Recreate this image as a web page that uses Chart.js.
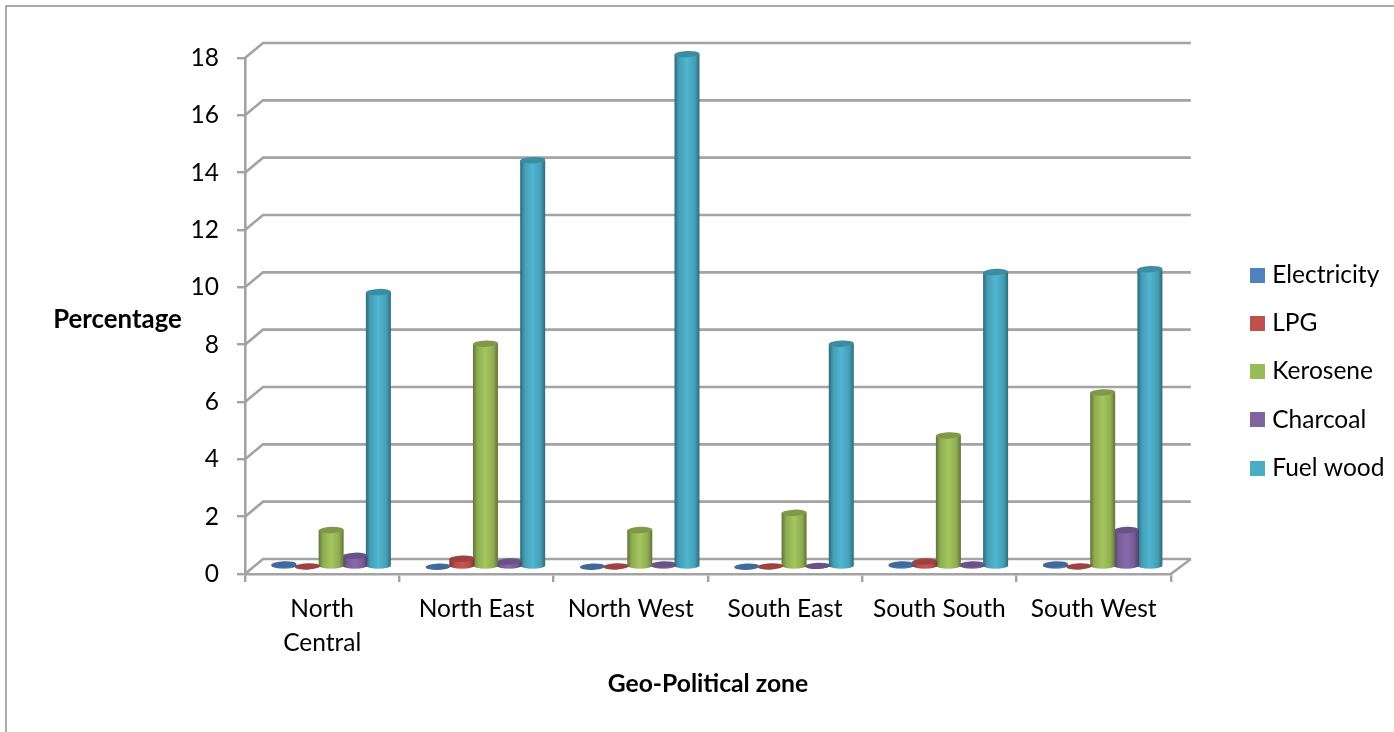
<!DOCTYPE html>
<html>
<head>
<meta charset="utf-8">
<style>html,body{margin:0;padding:0;background:#fff}canvas{display:block}</style>
<script src="https://cdn.jsdelivr.net/npm/chart.js@4/dist/chart.umd.min.js"></script>
</head>
<body>
<div style="width:1394px;height:732px"><canvas id="c" width="1394" height="732"></canvas></div>
<script>
const zones = [['North','Central'],'North East','North West','South East','South South','South West'];
const electricity = [0.1, 0.02, 0.02, 0.02, 0.1, 0.1];
const lpg = [0.03, 0.3, 0.03, 0.03, 0.2, 0.03];
const kerosene = [1.3, 7.8, 1.3, 1.9, 4.6, 6.1];
const charcoal = [0.4, 0.2, 0.1, 0.05, 0.1, 1.3];
const fuelWood = [9.6, 14.2, 17.9, 7.8, 10.3, 10.4];
const FONT = 'Lato, Carlito, sans-serif';
const AXIS = '#a3a3a3';
const DEPTH = {x: 18, y: -15};

function shade(hex, f) {
  const n = parseInt(hex.slice(1), 16);
  const c = s => Math.round(Math.min(255, Math.max(0, ((n >> s) & 255) * f)));
  return `rgb(${c(16)},${c(8)},${c(0)})`;
}

// Square legend swatch, painted once per series.
function swatch(color) {
  const s = document.createElement('canvas');
  s.width = 15;
  s.height = 15;
  const g = s.getContext('2d');
  g.fillStyle = color;
  g.fillRect(0, 0, 15, 15);
  return s;
}

// Back wall, floor and the enclosing frame sit behind the columns.
const wallPlugin = {
  id: 'wall',
  beforeDatasetsDraw(chart) {
    const {ctx, scales: {x, y}} = chart;
    ctx.save();
    ctx.strokeStyle = AXIS;
    ctx.lineWidth = 2.6;
    y.ticks.forEach(t => {
      const py = y.getPixelForValue(t.value);
      ctx.beginPath();
      ctx.moveTo(x.left, py);
      ctx.lineTo(x.left + DEPTH.x, py + DEPTH.y);
      ctx.lineTo(x.right + DEPTH.x + 2, py + DEPTH.y);
      ctx.stroke();
    });
    ctx.beginPath();
    ctx.moveTo(x.right, y.bottom);
    ctx.lineTo(x.right + DEPTH.x + 2, y.bottom + DEPTH.y);
    ctx.stroke();
    ctx.strokeStyle = '#8f8f8f';
    ctx.lineWidth = 1.5;
    ctx.beginPath();
    ctx.moveTo(6, 732);
    ctx.lineTo(6, 6);
    ctx.lineTo(1394, 6);
    ctx.stroke();
    ctx.restore();
  }
};

// Columns are drawn as shaded cylinders sitting mid-way into the floor depth.
const cylinderPlugin = {
  id: 'cylinder',
  beforeDatasetDraw(chart, args) {
    const {ctx} = chart;
    const color = chart.data.datasets[args.index].backgroundColor;
    args.meta.data.forEach(bar => {
      const cx = bar.x + DEPTH.x / 2;
      const top = bar.y + DEPTH.y / 2 + 0.8;
      const base = bar.base + DEPTH.y / 2 + 0.3;
      const rx = bar.width / 2 + 0.7;
      const ry = 3.2;
      const l = cx - rx, r = cx + rx;
      const g = ctx.createLinearGradient(l, 0, r, 0);
      g.addColorStop(0, shade(color, 0.62));
      g.addColorStop(0.18, shade(color, 0.92));
      g.addColorStop(0.5, shade(color, 1.06));
      g.addColorStop(0.82, shade(color, 0.92));
      g.addColorStop(1, shade(color, 0.62));
      ctx.save();
      ctx.fillStyle = g;
      ctx.beginPath();
      ctx.moveTo(l, top);
      ctx.lineTo(l, base);
      ctx.ellipse(cx, base, rx, ry, 0, Math.PI, 0, true);
      ctx.lineTo(r, top);
      ctx.closePath();
      ctx.fill();
      ctx.fillStyle = shade(color, 0.82);
      ctx.beginPath();
      ctx.ellipse(cx, top, rx, ry, -0.04, 0, Math.PI * 2);
      ctx.fill();
      ctx.restore();
    });
    return false;
  }
};

// The horizontal y title and the lowered legend need placing by hand.
const placementPlugin = {
  id: 'placement',
  afterLayout(chart) {
    const lg = chart.legend;
    const pad = lg.options.labels.padding;
    lg.left = 1255 - pad;
    lg.right = 1394;
    lg.width = lg.right - lg.left;
    const dy = 239 - lg.top;
    lg.top += dy;
    lg.bottom += dy;
  },
  afterDraw(chart) {
    const {ctx} = chart;
    ctx.save();
    ctx.font = `bold 25.8px ${FONT}`;
    ctx.fillStyle = '#000';
    ctx.textAlign = 'center';
    ctx.textBaseline = 'middle';
    ctx.fillText('Percentage', 117.5, 319.5);
    ctx.restore();
  }
};

const series = [
  ['Electricity', electricity, '#4f81bd'],
  ['LPG', lpg, '#c0504d'],
  ['Kerosene', kerosene, '#9bbb59'],
  ['Charcoal', charcoal, '#8064a2'],
  ['Fuel wood', fuelWood, '#4bacc6']
];

new Chart(document.getElementById('c'), {
  type: 'bar',
  data: {
    labels: zones,
    datasets: series.map(([label, data, backgroundColor]) => ({label, data, backgroundColor}))
  },
  plugins: [wallPlugin, cylinderPlugin, placementPlugin],
  options: {
    responsive: false,
    animation: false,
    events: [],
    layout: {padding: {left: 0, right: 60, top: 58, bottom: 29}},
    categoryPercentage: 0.765,
    barPercentage: 1,
    plugins: {
      tooltip: {enabled: false},
      legend: {
        position: 'right',
        align: 'start',
        labels: {
          usePointStyle: true,
          pointStyleWidth: 5,
          boxHeight: 15,
          padding: 23.75,
          color: '#000',
          font: {family: FONT, size: 24.5},
          generateLabels(chart) {
            return Chart.defaults.plugins.legend.labels.generateLabels(chart).map((item, i) => {
              item.pointStyle = swatch(chart.data.datasets[i].backgroundColor);
              return item;
            });
          }
        }
      }
    },
    scales: {
      x: {
        afterFit(s) { s.height = 129; },
        grid: {drawOnChartArea: false, drawTicks: true, tickLength: 8, tickColor: AXIS, lineWidth: 2.4},
        border: {color: AXIS, width: 2.6},
        ticks: {color: '#000', font: {family: FONT, size: 24.5, lineHeight: 1.35}, maxRotation: 0, autoSkip: false, padding: 11},
        title: {display: true, text: 'Geo-Political zone', color: '#000', font: {family: FONT, size: 24.7, weight: 'bold'}, padding: {top: 10}}
      },
      y: {
        min: 0,
        max: 18,
        afterFit(s) { s.width = 245; },
        grid: {drawOnChartArea: false, tickLength: 8, tickColor: AXIS, lineWidth: 2.4},
        border: {color: AXIS, width: 2.6},
        ticks: {stepSize: 2, color: '#000', font: {family: FONT, size: 24.5}, padding: 18}
      }
    }
  }
});
</script>
</body>
</html>
